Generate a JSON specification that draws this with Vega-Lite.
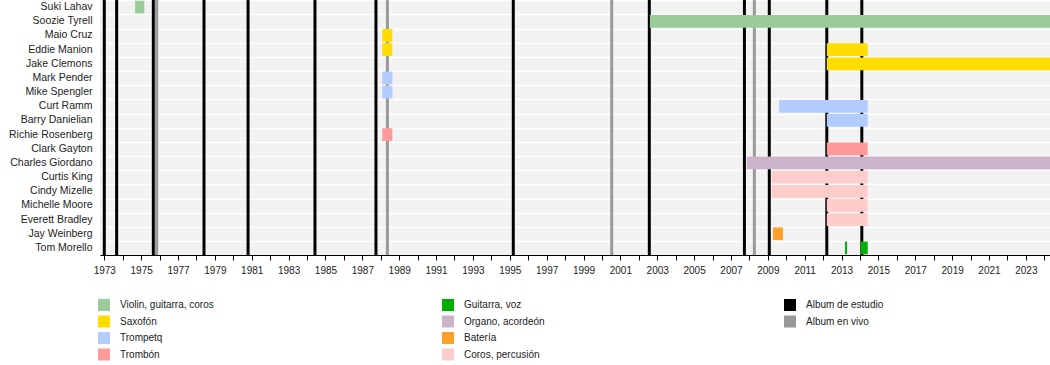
{
  "$schema": "https://vega.github.io/schema/vega-lite/v6.json",
  "autosize": {"type": "none"},
  "padding": {"left": 100, "top": 0, "right": 0, "bottom": 110},
  "width": 950,
  "height": 255,
  "background": "white",
  "config": {
    "font": "Liberation Sans",
    "view": {"fill": "#f2f2f2", "stroke": null},
    "axisX": {"labelOverlap": false, "labelSeparation": 0}
  },
  "datasets": {
    "members": [
      {"name": "Suki Lahav", "start": 1974.67, "end": 1975.17, "role": "Violin, guitarra, coros"},
      {"name": "Soozie Tyrell", "start": 2002.6, "end": 2024.31, "role": "Violin, guitarra, coros"},
      {"name": "Maio Cruz", "start": 1988.08, "end": 1988.63, "role": "Saxofón"},
      {"name": "Eddie Manion", "start": 1988.08, "end": 1988.63, "role": "Saxofón"},
      {"name": "Eddie Manion", "start": 2012.2, "end": 2014.42, "role": "Saxofón"},
      {"name": "Jake Clemons", "start": 2012.2, "end": 2024.31, "role": "Saxofón"},
      {"name": "Mark Pender", "start": 1988.08, "end": 1988.63, "role": "Trompetq"},
      {"name": "Mike Spengler", "start": 1988.08, "end": 1988.63, "role": "Trompetq"},
      {"name": "Curt Ramm", "start": 2009.61, "end": 2014.42, "role": "Trompetq"},
      {"name": "Barry Danielian", "start": 2012.2, "end": 2014.42, "role": "Trompetq"},
      {"name": "Richie Rosenberg", "start": 1988.08, "end": 1988.63, "role": "Trombón"},
      {"name": "Clark Gayton", "start": 2012.2, "end": 2014.42, "role": "Trombón"},
      {"name": "Charles Giordano", "start": 2007.86, "end": 2024.31, "role": "Organo, acordeón"},
      {"name": "Curtis King", "start": 2009.21, "end": 2014.42, "role": "Coros, percusión"},
      {"name": "Cindy Mizelle", "start": 2009.21, "end": 2014.42, "role": "Coros, percusión"},
      {"name": "Michelle Moore", "start": 2012.2, "end": 2014.42, "role": "Coros, percusión"},
      {"name": "Everett Bradley", "start": 2012.2, "end": 2014.42, "role": "Coros, percusión"},
      {"name": "Jay Weinberg", "start": 2009.28, "end": 2009.82, "role": "Batería"},
      {"name": "Tom Morello", "start": 2013.19, "end": 2013.3, "role": "Guitarra, voz"},
      {"name": "Tom Morello", "start": 2014.04, "end": 2014.42, "role": "Guitarra, voz"}
    ],
    "albums": [
      {"year": 1973.0, "type": "Album de estudio"},
      {"year": 1973.67, "type": "Album de estudio"},
      {"year": 1975.66, "type": "Album de estudio"},
      {"year": 1975.84, "type": "Album en vivo"},
      {"year": 1978.41, "type": "Album de estudio"},
      {"year": 1980.8, "type": "Album de estudio"},
      {"year": 1984.43, "type": "Album de estudio"},
      {"year": 1987.74, "type": "Album de estudio"},
      {"year": 1988.36, "type": "Album en vivo"},
      {"year": 1995.19, "type": "Album de estudio"},
      {"year": 2000.53, "type": "Album en vivo"},
      {"year": 2002.57, "type": "Album de estudio"},
      {"year": 2007.73, "type": "Album de estudio"},
      {"year": 2008.27, "type": "Album en vivo"},
      {"year": 2009.08, "type": "Album de estudio"},
      {"year": 2012.2, "type": "Album de estudio"},
      {"year": 2014.1, "type": "Album de estudio"}
    ]
  },
  "layer": [
    {
      "data": {"name": "members"},
      "mark": {"type": "rule", "opacity": 0},
      "encoding": {
        "y": {
          "field": "name",
          "type": "nominal",
          "sort": ["Suki Lahav", "Soozie Tyrell", "Maio Cruz", "Eddie Manion", "Jake Clemons", "Mark Pender", "Mike Spengler", "Curt Ramm", "Barry Danielian", "Richie Rosenberg", "Clark Gayton", "Charles Giordano", "Curtis King", "Cindy Mizelle", "Michelle Moore", "Everett Bradley", "Jay Weinberg", "Tom Morello"],
          "scale": {"paddingInner": 0.1, "paddingOuter": 0.05},
          "axis": {
            "title": null,
            "domain": false,
            "ticks": false,
            "labelPadding": 8,
            "labelFontSize": 10.5,
            "labelColor": "#222222",
            "grid": true,
            "gridColor": "#ffffff",
            "gridWidth": 1.5,
            "bandPosition": 0
          }
        }
      }
    },
    {
      "data": {"name": "albums"},
      "mark": {"type": "rule", "strokeWidth": 3},
      "encoding": {
        "x": {
          "field": "year",
          "type": "quantitative",
          "scale": {"domain": [1972.767, 2024.31], "nice": false, "zero": false},
          "axis": {
            "title": null,
            "grid": false,
            "values": [1973, 1974, 1975, 1976, 1977, 1978, 1979, 1980, 1981, 1982, 1983, 1984, 1985, 1986, 1987, 1988, 1989, 1990, 1991, 1992, 1993, 1994, 1995, 1996, 1997, 1998, 1999, 2000, 2001, 2002, 2003, 2004, 2005, 2006, 2007, 2008, 2009, 2010, 2011, 2012, 2013, 2014, 2015, 2016, 2017, 2018, 2019, 2020, 2021, 2022, 2023, 2024],
            "format": "d",
            "labelExpr": "datum.value % 2 == 1 ? datum.label : ''",
            "labelFontSize": 10,
            "labelColor": "#222222",
            "labelOverlap": false,
            "labelSeparation": 0,
            "labelPadding": 5,
            "domainColor": "#000000",
            "tickColor": "#000000",
            "tickSize": 5
          }
        },
        "color": {
          "field": "type",
          "type": "nominal",
          "scale": {"domain": ["Album de estudio", "Album en vivo"], "range": ["#000000", "#999999"]},
          "legend": {
            "title": null,
            "orient": "none",
            "legendX": 684,
            "legendY": 299,
            "symbolType": "square",
            "symbolSize": 144,
            "symbolStrokeWidth": 0,
            "labelFontSize": 10,
            "labelColor": "#222222",
            "labelOffset": 10,
            "rowPadding": 4.5,
            "encode": {
              "symbols": {
                "update": {
                  "fill": {"signal": "datum.value === 'Album de estudio' ? '#000000' : '#999999'"},
                  "opacity": {"value": 1}
                }
              }
            }
          }
        }
      }
    },
    {
      "data": {"name": "members"},
      "mark": {"type": "bar", "opacity": 1},
      "encoding": {
        "y": {"field": "name", "type": "nominal",
          "sort": ["Suki Lahav", "Soozie Tyrell", "Maio Cruz", "Eddie Manion", "Jake Clemons", "Mark Pender", "Mike Spengler", "Curt Ramm", "Barry Danielian", "Richie Rosenberg", "Clark Gayton", "Charles Giordano", "Curtis King", "Cindy Mizelle", "Michelle Moore", "Everett Bradley", "Jay Weinberg", "Tom Morello"]},
        "x": {
          "field": "start",
          "type": "quantitative",
          "axis": {
            "title": null,
            "grid": false,
            "values": [1973, 1974, 1975, 1976, 1977, 1978, 1979, 1980, 1981, 1982, 1983, 1984, 1985, 1986, 1987, 1988, 1989, 1990, 1991, 1992, 1993, 1994, 1995, 1996, 1997, 1998, 1999, 2000, 2001, 2002, 2003, 2004, 2005, 2006, 2007, 2008, 2009, 2010, 2011, 2012, 2013, 2014, 2015, 2016, 2017, 2018, 2019, 2020, 2021, 2022, 2023, 2024],
            "format": "d",
            "labelExpr": "datum.value % 2 == 1 ? datum.label : ''",
            "labelFontSize": 10,
            "labelColor": "#222222",
            "labelOverlap": false,
            "labelSeparation": 0,
            "labelPadding": 5,
            "domainColor": "#000000",
            "tickColor": "#000000",
            "tickSize": 5
          }
        },
        "x2": {"field": "end"},
        "color": {
          "field": "role",
          "type": "nominal",
          "scale": {
            "domain": ["Violin, guitarra, coros", "Saxofón", "Trompetq", "Trombón", "Guitarra, voz", "Organo, acordeón", "Batería", "Coros, percusión"],
            "range": ["#99cc99", "#ffdc00", "#b3ccff", "#ff9999", "#00b000", "#ccb3cc", "#ffa02a", "#ffcccc"]
          },
          "legend": {
            "title": null,
            "orient": "none",
            "legendX": -2,
            "legendY": 299,
            "columns": 2,
            "columnPadding": 228,
            "rowPadding": 4.5,
            "symbolType": "square",
            "symbolSize": 144,
            "symbolStrokeWidth": 0,
            "labelFontSize": 10,
            "labelColor": "#222222",
            "labelOffset": 10
          }
        }
      }
    }
  ],
  "resolve": {"scale": {"color": "independent"}, "legend": {"color": "independent"}}
}
